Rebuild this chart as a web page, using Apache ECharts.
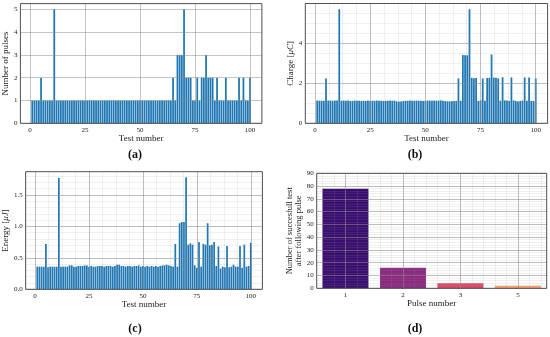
<!DOCTYPE html>
<html><head><meta charset="utf-8">
<script src="https://cdn.jsdelivr.net/npm/echarts@6/dist/echarts.min.js"></script>
<style>html,body{margin:0;padding:0;background:#fff}#c{width:550px;height:337px}</style>
</head><body><div id="c"></div>
<script>
const testNumbers = [1,2,3,4,5,6,7,8,9,10,11,12,13,14,15,16,17,18,19,20,21,22,23,24,25,26,27,28,29,30,31,32,33,34,35,36,37,38,39,40,41,42,43,44,45,46,47,48,49,50,51,52,53,54,55,56,57,58,59,60,61,62,63,64,65,66,67,68,69,70,71,72,73,74,75,76,77,78,79,80,81,82,83,84,85,86,87,88,89,90,91,92,93,94,95,96,97,98,99,100];
const pulses = [1,1,1,1,2,1,1,1,1,1, 5,1,1,1,1,1,1,1,1,1, 1,1,1,1,1,1,1,1,1,1, 1,1,1,1,1,1,1,1,1,1, 1,1,1,1,1,1,1,1,1,1, 1,1,1,1,1,1,1,1,1,1, 1,1,1,1,2,1,3,3,3,5, 2,2,2,1,1,2,1,2,2,3, 2,2,2,1,2,1,1,1,2,1, 1,1,1,1,2,1,2,1,1,2];
const charge = [1.14,1.13,1.13,1.13,2.25,1.14,1.14,1.13,1.14,1.14, 5.72,1.13,1.14,1.13,1.14,1.12,1.12,1.14,1.13,1.13, 1.12,1.13,1.12,1.14,1.12,1.13,1.13,1.14,1.13,1.13, 1.12,1.13,1.13,1.14,1.13,1.14,1.10,1.09,1.09,1.12, 1.13,1.13,1.14,1.13,1.13,1.14,1.13,1.13,1.12,1.13, 1.14,1.14,1.13,1.14,1.13,1.14,1.15,1.13,1.11,1.10, 1.10,1.11,1.12,1.12,2.25,1.13,3.42,3.41,3.41,5.72, 2.28,2.26,2.27,1.12,1.15,2.25,1.13,2.27,2.28,3.45, 2.29,2.28,2.25,1.13,2.31,1.15,1.14,1.12,2.30,1.15, 1.12,1.09,1.12,1.14,2.30,1.13,2.30,1.12,1.12,2.25];
const energy = [0.36,0.36,0.36,0.36,0.72,0.35,0.36,0.36,0.36,0.36, 1.77,0.36,0.36,0.36,0.36,0.38,0.38,0.36,0.36,0.37, 0.37,0.37,0.38,0.38,0.36,0.37,0.36,0.36,0.37,0.37, 0.37,0.36,0.37,0.37,0.37,0.36,0.37,0.39,0.39,0.37, 0.37,0.36,0.37,0.37,0.36,0.37,0.37,0.38,0.36,0.37, 0.36,0.37,0.36,0.37,0.36,0.37,0.36,0.37,0.38,0.38, 0.39,0.38,0.37,0.36,0.72,0.36,1.05,1.07,1.07,1.78, 0.71,0.73,0.71,0.38,0.34,0.75,0.36,0.72,0.71,1.05, 0.70,0.71,0.75,0.37,0.68,0.33,0.36,0.35,0.69,0.35, 0.36,0.39,0.36,0.36,0.69,0.34,0.71,0.36,0.37,0.74];
const pulseCategories = ['1','2','3','5'];
const successCounts = [78,16,4,2];
const magmaColors = ['#3b0f70','#8c2981','#de4968','#fe9f6d'];

const testTicks = [0,25,50,75,100];
const testMinorTicks = [0,6.25,12.5,18.75,25,31.25,37.5,43.75,50,56.25,62.5,68.75,75,81.25,87.5,93.75,100];
const pulseTicks = [0,1,2,3,4,5];
const chargeTicks = [0,2,4];
const chargeMinorTicks = [0,0.5,1,1.5,2,2.5,3,3.5,4,4.5,5,5.5];
const energyTicks = [0,0.5,1.0,1.5];
const energyMinorTicks = [0,0.1,0.2,0.3,0.4,0.5,0.6,0.7,0.8,0.9,1.0,1.1,1.2,1.3,1.4,1.5,1.6,1.7,1.8];
const successTicks = [0,10,20,30,40,50,60,70,80,90];
const successMinorTicks = [0,2,4,6,8,10,12,14,16,18,20,22,24,26,28,30,32,34,36,38,40,42,44,46,48,50,52,54,56,58,60,62,64,66,68,70,72,74,76,78,80,82,84,86,88,90];
const categoryTicks = [0,1,2,3];
const categoryMinorTicks = [-0.4,-0.2,0,0.2,0.4,0.6,0.8,1,1.2,1.4,1.6,1.8,2,2.2,2.4,2.6,2.8,3,3.2,3.4];

const FONT = 'Liberation Serif';
const TXT = '#222';
const MAJOR = 'rgba(140,140,140,0.5)';
const MINOR = 'rgba(150,150,150,0.14)';
const TICK_FS = 7;
const NAME_FS = 9;

function mainX(grid, min, max, ticks, name, fmt) {
  return {
    type: 'value', gridIndex: grid, min: min, max: max, position: 'bottom', z: 4,
    name: name, nameLocation: 'middle', nameGap: 10,
    nameTextStyle: {fontFamily: FONT, fontSize: NAME_FS, color: TXT},
    axisLine: {show: false}, axisTick: {show: false, customValues: ticks},
    axisLabel: {customValues: ticks, fontFamily: FONT, fontSize: TICK_FS, color: TXT, margin: 3, formatter: fmt},
    splitLine: {show: true, lineStyle: {color: MAJOR, width: 1}}
  };
}
function minorX(grid, min, max, ticks) {
  return {
    type: 'value', gridIndex: grid, min: min, max: max, position: 'top', z: 3,
    axisLine: {show: false}, axisTick: {show: false, customValues: ticks},
    axisLabel: {show: false, customValues: ticks},
    splitLine: {show: true, lineStyle: {color: MINOR, width: 1}}
  };
}
function mainY(grid, min, max, ticks, name, gap, fmt, rich, fs) {
  return {
    type: 'value', gridIndex: grid, min: min, max: max, position: 'left', z: 4,
    name: name, nameLocation: 'middle', nameGap: gap, nameRotate: 90,
    nameTextStyle: {fontFamily: FONT, fontSize: fs || NAME_FS, color: TXT, lineHeight: fs || NAME_FS, rich: rich},
    axisLine: {show: false}, axisTick: {show: false, customValues: ticks},
    axisLabel: {customValues: ticks, fontFamily: FONT, fontSize: TICK_FS, color: TXT, margin: 3, formatter: fmt},
    splitLine: {show: true, lineStyle: {color: MAJOR, width: 1}}
  };
}
function minorY(grid, min, max, ticks) {
  return {
    type: 'value', gridIndex: grid, min: min, max: max, position: 'right', z: 3,
    axisLine: {show: false}, axisTick: {show: false, customValues: ticks},
    axisLabel: {show: false, customValues: ticks},
    splitLine: {show: true, lineStyle: {color: MINOR, width: 1}}
  };
}
const italicRich = {i: {fontFamily: FONT, fontSize: NAME_FS, fontStyle: 'italic', color: TXT}};

const XMIN = -4.39, XMAX = 105.39;
const gridStyle = {show: true, borderColor: '#505050', borderWidth: 1, backgroundColor: 'rgba(0,0,0,0)', z: 5};
const labelFont = 'bold 12px "Liberation Serif"';

const option = {
  animation: false,
  backgroundColor: '#fff',
  grid: [
    Object.assign({left: 19.6, top: 3.6, width: 242.3, height: 119.7}, gridStyle),
    Object.assign({left: 305.3, top: 3.5, width: 242.3, height: 119.8}, gridStyle),
    Object.assign({left: 23.8, top: 171.7, width: 238.6, height: 117.6}, gridStyle),
    Object.assign({left: 316.7, top: 173.3, width: 230, height: 115}, gridStyle)
  ],
  xAxis: [
    mainX(0, XMIN, XMAX, testTicks, 'Test number'),
    mainX(1, XMIN, XMAX, testTicks, 'Test number'),
    minorX(1, XMIN, XMAX, testMinorTicks),
    mainX(2, XMIN, XMAX, testTicks, 'Test number'),
    minorX(2, XMIN, XMAX, testMinorTicks),
    mainX(3, -0.5, 3.5, categoryTicks, 'Pulse number', v => pulseCategories[Math.round(v)] || ''),
    minorX(3, -0.5, 3.5, categoryMinorTicks)
  ],
  yAxis: [
    mainY(0, 0, 5.25, pulseTicks, 'Number of pulses', 7),
    mainY(1, 0, 6.006, chargeTicks, 'Charge [{i|μC}]', 8, null, italicRich),
    minorY(1, 0, 6.006, chargeMinorTicks),
    mainY(2, 0, 1.869, energyTicks, 'Energy [{i|μJ}]', 11, v => v.toFixed(1), italicRich),
    minorY(2, 0, 1.869, energyMinorTicks),
    mainY(3, 0, 90, successTicks, 'Number of succesfull test\nafter following pulse', 10, null, null, 8.5),
    minorY(3, 0, 90, successMinorTicks)
  ],
  series: [
    {type: 'bar', xAxisIndex: 0, yAxisIndex: 0, barWidth: '80%', itemStyle: {color: '#1f77b4'},
     data: testNumbers.map((t, i) => [t, pulses[i]])},
    {type: 'bar', xAxisIndex: 1, yAxisIndex: 1, barWidth: '80%', itemStyle: {color: '#1f77b4'},
     data: testNumbers.map((t, i) => [t, charge[i]])},
    {type: 'bar', xAxisIndex: 3, yAxisIndex: 3, barWidth: '80%', itemStyle: {color: '#1f77b4'},
     data: testNumbers.map((t, i) => [t, energy[i]])},
    {type: 'bar', xAxisIndex: 5, yAxisIndex: 5, barWidth: '80%',
     data: successCounts.map((v, i) => ({value: [i, v], itemStyle: {color: magmaColors[i]}}))}
  ],
  graphic: [
    {type: 'text', x: 135, y: 155, style: {text: '(a)', font: labelFont, fill: '#111', align: 'center', verticalAlign: 'middle', textAlign: 'center', textVerticalAlign: 'middle'}},
    {type: 'text', x: 415, y: 155, style: {text: '(b)', font: labelFont, fill: '#111', align: 'center', verticalAlign: 'middle', textAlign: 'center', textVerticalAlign: 'middle'}},
    {type: 'text', x: 135, y: 329, style: {text: '(c)', font: labelFont, fill: '#111', align: 'center', verticalAlign: 'middle', textAlign: 'center', textVerticalAlign: 'middle'}},
    {type: 'text', x: 415, y: 329, style: {text: '(d)', font: labelFont, fill: '#111', align: 'center', verticalAlign: 'middle', textAlign: 'center', textVerticalAlign: 'middle'}}
  ]
};
const chart = echarts.init(document.getElementById('c'), null, {renderer: 'canvas'});
chart.setOption(option);
</script>
</body></html>
